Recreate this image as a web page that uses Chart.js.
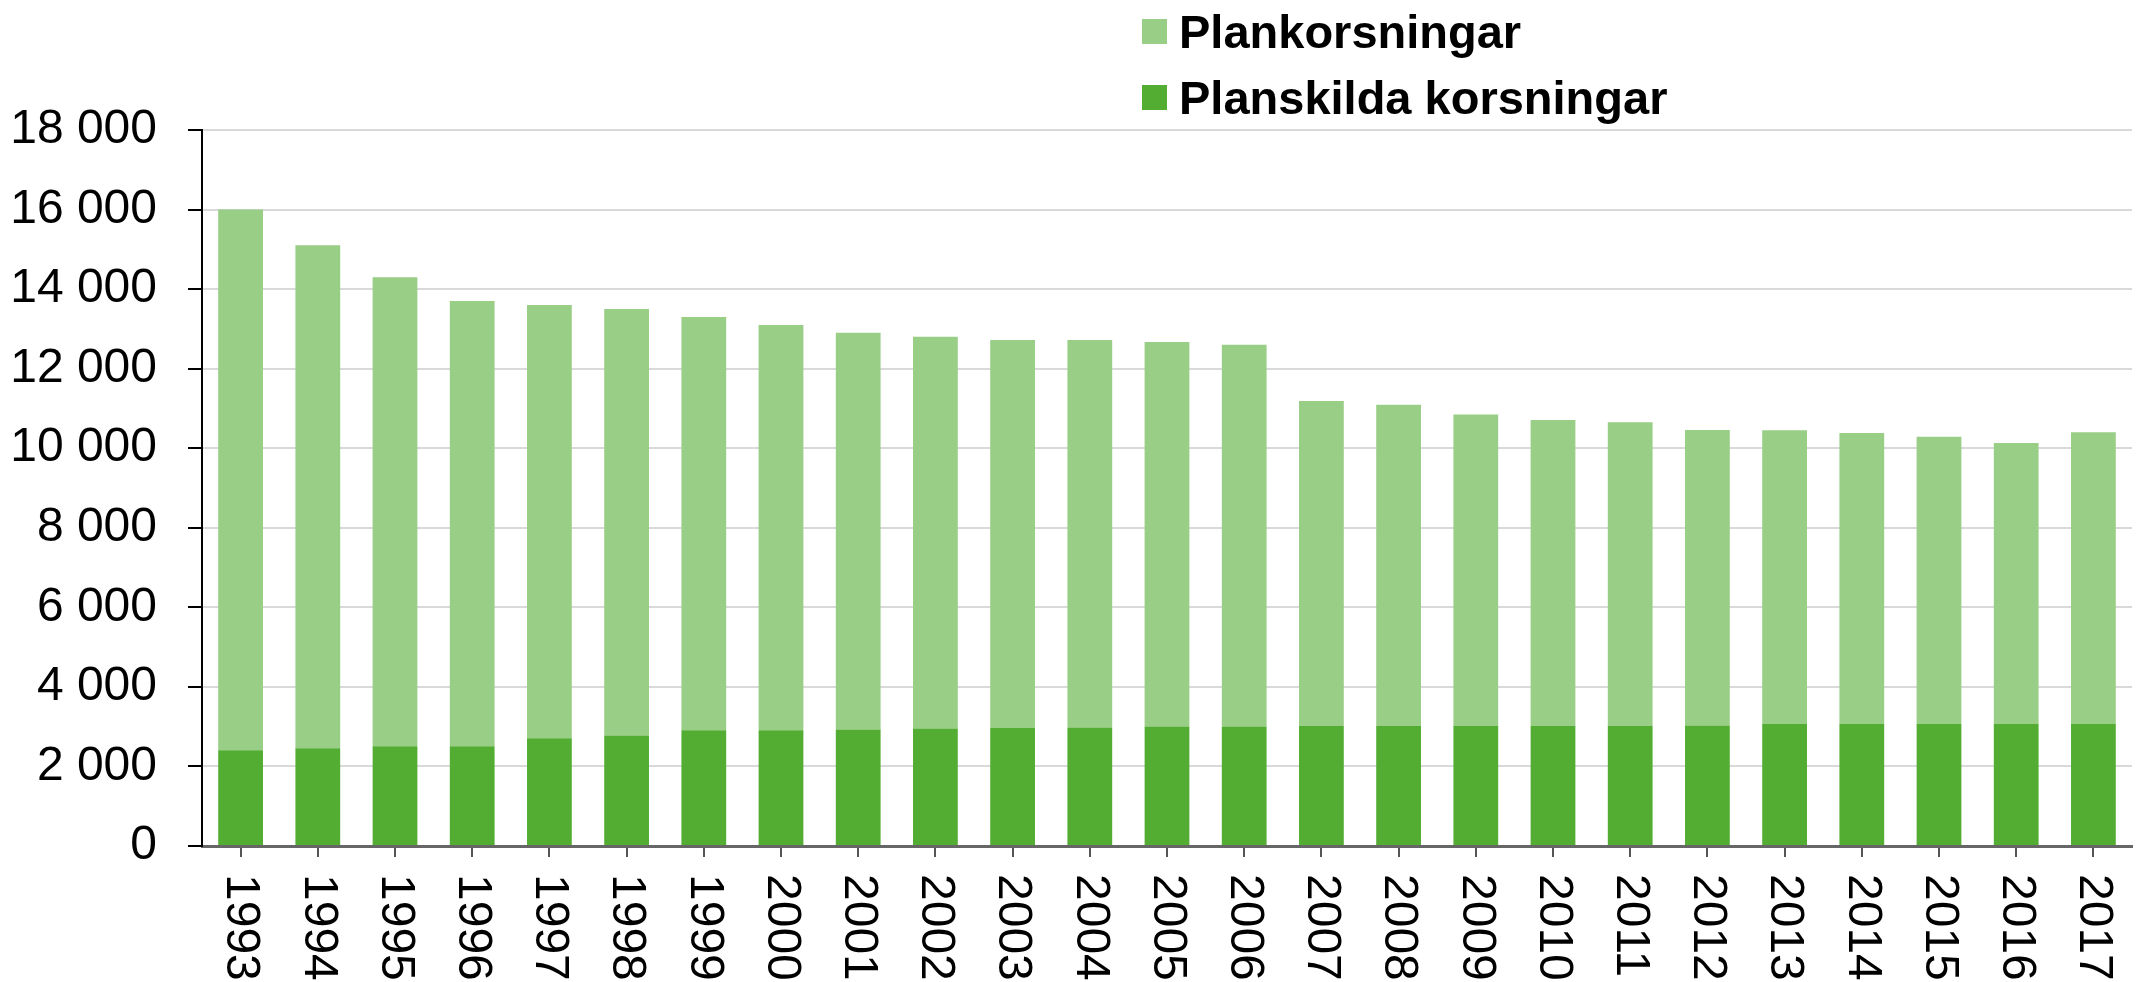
<!DOCTYPE html>
<html>
<head>
<meta charset="utf-8">
<script src="https://cdn.jsdelivr.net/npm/chart.js@4/dist/chart.umd.min.js"></script>
<style>
  body { margin: 0; background: #fff; }
  #wrap { position: relative; width: 2143px; height: 982px; }
  #legend { position: absolute; left: 1142px; top: -2px; font: bold 47px "Liberation Sans", Arial, sans-serif; color: #000; }
  .item { display: flex; align-items: center; height: 66px; }
  .box { width: 25px; height: 25px; margin-right: 12px; }
</style>
</head>
<body>
<div id="wrap">
  <canvas id="chart" width="2143" height="982"></canvas>
  <div id="legend"></div>
</div>
<script>
const years = ["1993", "1994", "1995", "1996", "1997", "1998", "1999", "2000", "2001", "2002", "2003", "2004",
  "2005", "2006", "2007", "2008", "2009", "2010", "2011", "2012", "2013", "2014", "2015", "2016", "2017"];

// planskilda (bottom, dark)
const planskilda = [2410, 2460, 2510, 2510, 2710, 2780, 2910, 2910, 2930, 2955, 2965, 2980,
  3005, 3005, 3015, 3015, 3020, 3020, 3020, 3030, 3065, 3065, 3065, 3075, 3075];

// plankorsningar (top, light)
const plankorsningar = [13590, 12640, 11790, 11190, 10890, 10720, 10390, 10190, 9970, 9845, 9755, 9740,
  9665, 9595, 8175, 8075, 7830, 7690, 7630, 7430, 7385, 7315, 7225, 7055, 7325];

const yTicks = [0, 2000, 4000, 6000, 8000, 10000, 12000, 14000, 16000, 18000];

const FONT = '"Liberation Sans", Arial, sans-serif';

// etiquetas del eje x giradas 90 grados (de arriba hacia abajo)
const rotatedLabels = {
  id: "rotatedLabels",
  afterDraw(chart) {
    const ctx = chart.ctx;
    const xScale = chart.scales.x;
    ctx.save();
    ctx.font = "48px " + FONT;
    ctx.fillStyle = "#000";
    ctx.textAlign = "left";
    ctx.textBaseline = "middle";
    years.forEach((year, i) => {
      const px = xScale.getPixelForTick(i);
      ctx.save();
      ctx.translate(px, xScale.top + 28);
      ctx.rotate(Math.PI / 2);
      ctx.fillText(year, 0, 0);
      ctx.restore();
    });
    ctx.restore();
  },
};

const chart = new Chart(document.getElementById("chart").getContext("2d"), {
  type: "bar",
  data: {
    labels: years,
    datasets: [
      {
        label: "Planskilda korsningar",
        data: planskilda,
        backgroundColor: "#52ad32",
      },
      {
        label: "Plankorsningar",
        data: plankorsningar,
        backgroundColor: "#98ce86",
      },
    ],
  },
  options: {
    responsive: false,
    animation: false,
    layout: { padding: { top: 130, right: 11, bottom: 0, left: 0 } },
    datasets: { bar: { categoryPercentage: 1, barPercentage: 0.58 } },
    plugins: {
      legend: { display: false },
      tooltip: { enabled: false },
    },
    scales: {
      x: {
        stacked: true,
        z: 1,
        grid: {
          offset: false,
          drawOnChartArea: false,
          drawTicks: true,
          tickLength: 11,
          tickColor: "#555",
          lineWidth: 2,
        },
        border: { color: "#666", width: 3 },
        ticks: { display: false },
        afterFit(scale) {
          scale.height = 136;
        },
      },
      y: {
        stacked: true,
        min: 0,
        max: 18000,
        z: 1,
        afterBuildTicks(scale) {
          scale.ticks = yTicks.map((v) => ({ value: v }));
        },
        grid: {
          color: "rgba(0,0,0,0.15)",
          lineWidth: 2,
          tickColor: "#000",
          tickLength: 14,
        },
        border: { color: "#000", width: 2 },
        ticks: {
          padding: 31,
          color: "#000",
          font: { family: FONT, size: 48 },
          callback: (v) => String(v).replace(/\B(?=(\d{3})+(?!\d))/g, " "),
        },
        afterFit(scale) {
          scale.width = 202;
        },
      },
    },
  },
  plugins: [rotatedLabels],
});

// leyenda: la serie de arriba primero
const legend = document.getElementById("legend");
chart.data.datasets.slice().reverse().forEach((ds) => {
  const item = document.createElement("div");
  item.className = "item";
  const box = document.createElement("span");
  box.className = "box";
  box.style.background = ds.backgroundColor;
  const text = document.createElement("span");
  text.textContent = ds.label;
  item.appendChild(box);
  item.appendChild(text);
  legend.appendChild(item);
});
</script>
</body>
</html>
